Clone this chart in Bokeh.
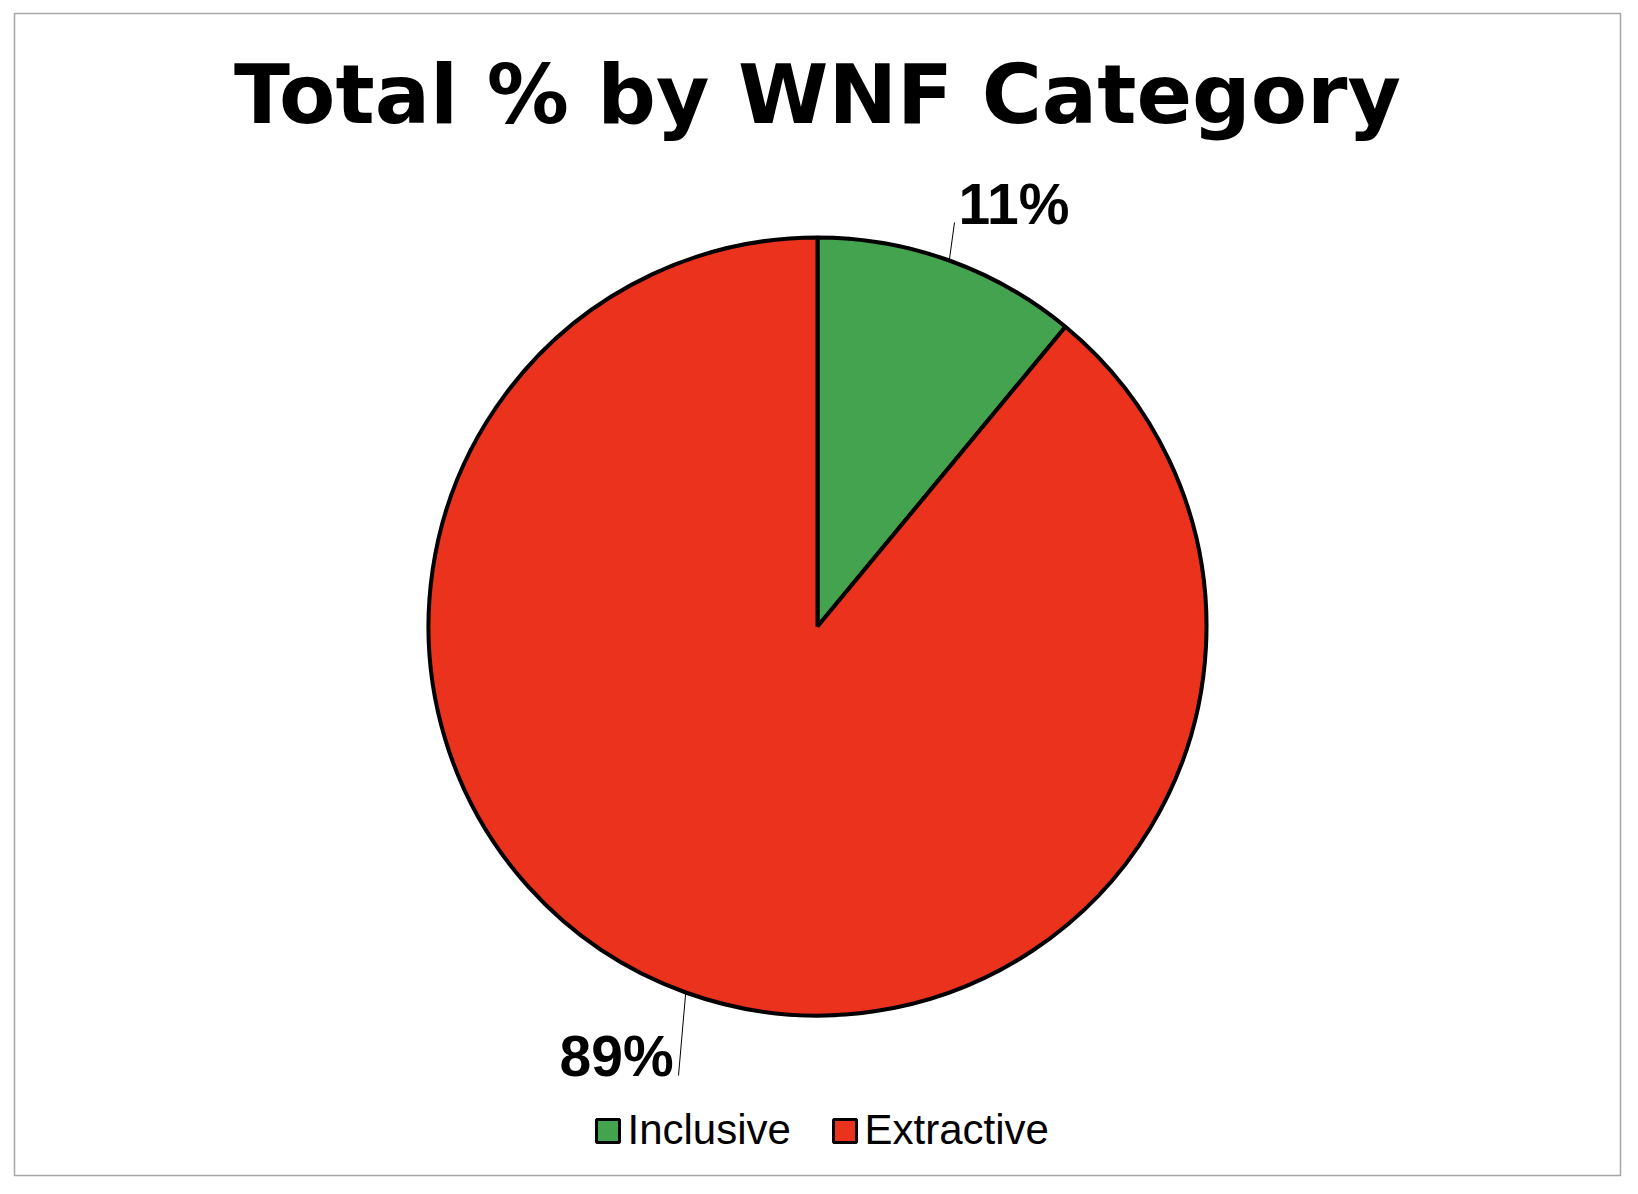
import math
from bokeh.plotting import figure
from bokeh.models import Range1d
from bokeh.core.properties import value
from bokeh.embed import file_html
from bokeh.resources import INLINE

# ---- data ----
title_text = "Total % by WNF Category"
categories = ["Inclusive", "Extractive"]
percents = [11, 89]
colors = ["#43A34F", "#EA321D"]
label_texts = ["11%", "89%"]

# ---- layout (pixel space: x right, y up) ----
W, H = 1622, 1178
cx, cy, R = 817, 552, 389

p = figure(width=W, height=H, output_backend="svg", toolbar_location=None,
           x_range=Range1d(0, W), y_range=Range1d(0, H), min_border=0)
p.axis.visible = False
p.grid.visible = False
p.outline_line_color = None
p.background_fill_color = "white"
p.border_fill_color = "white"

# chart border
p.quad(left=[14], right=[1620], bottom=[3], top=[1165], fill_color=None,
       line_color="#A6A6A6", line_width=1.5)

# wedges, clockwise from 12 o'clock
total = float(sum(percents))
starts, ends, mids = [], [], []
acc = 0.0
for v in percents:
    a0 = math.pi / 2 - 2 * math.pi * acc / total
    acc += v
    a1 = math.pi / 2 - 2 * math.pi * acc / total
    starts.append(a0)
    ends.append(a1)
    mids.append((a0 + a1) / 2)

p.wedge(x=[cx] * len(percents), y=[cy] * len(percents), radius=R,
        start_angle=starts, end_angle=ends, direction="clock",
        fill_color=colors, line_color="black", line_width=4)

# leader lines
label_anchor = [(954, 956), (678, 103)]
for m, (ex, ey) in zip(mids, label_anchor):
    sx = cx + R * math.cos(m)
    sy = cy + R * math.sin(m)
    p.line([sx, ex], [sy, ey], line_color="black", line_width=1)

# data labels
label_pos = [(958, 975), (559, 123)]
p.text(x=[q[0] for q in label_pos], y=[q[1] for q in label_pos], text=label_texts,
       text_font=value("Liberation Sans"), text_font_style="bold",
       text_font_size="57px", text_color="black",
       text_align="left", text_baseline="alphabetic")

# title
p.text(x=[817], y=[1084], text=[title_text],
       text_font=value("DejaVu Sans"), text_font_style="bold",
       text_font_size="82px", text_color="black",
       text_align="center", text_baseline="alphabetic")

# legend
sq_x = [607.5, 844.5]
sq_y = [47.5, 47.5]
p.scatter(x=sq_x, y=sq_y, marker="square", size=23, fill_color=colors,
          line_color="black", line_width=3)
p.text(x=[627, 864], y=[49, 49], text=categories,
       text_font=value("Liberation Sans"), text_font_size="42px",
       text_color="black", text_align="left", text_baseline="alphabetic")

open("out.html", "w").write(file_html(p, INLINE))
